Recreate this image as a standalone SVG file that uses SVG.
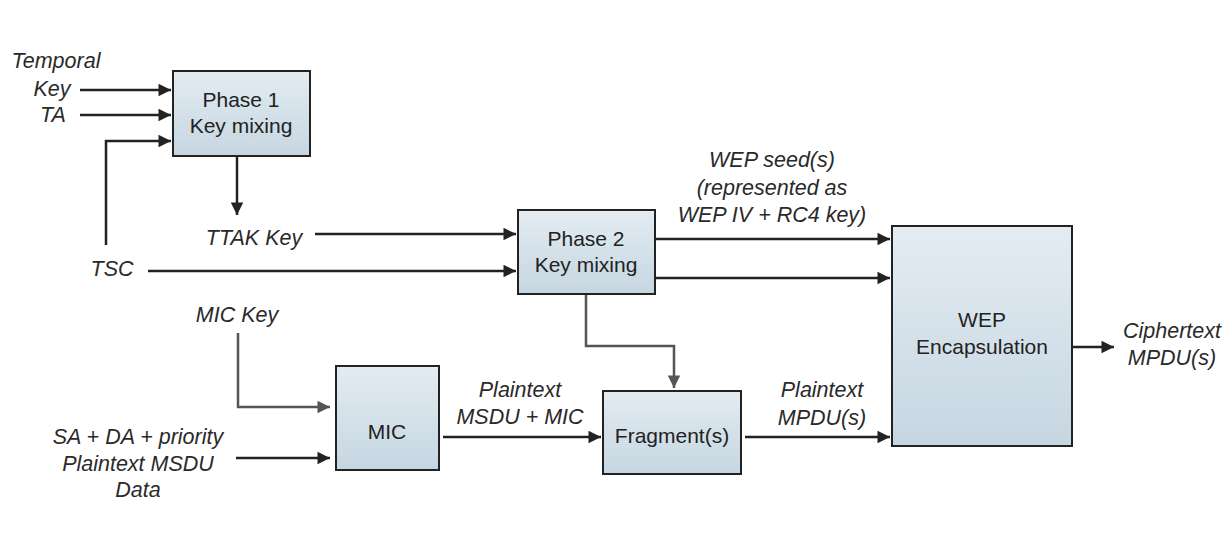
<svg xmlns="http://www.w3.org/2000/svg" width="1227" height="556" viewBox="0 0 1227 556">
<style>
.box{fill:url(#g);stroke:#222;stroke-width:2}
.bt{font-family:"Liberation Sans",Arial,sans-serif;font-size:21px;fill:#222;text-anchor:middle}
.lb{font-family:"Liberation Sans",Arial,sans-serif;font-size:21.5px;font-style:italic;fill:#2a2a2a;text-anchor:middle}
.c{fill:none;stroke:#222;stroke-width:2.5}
.cg{fill:none;stroke:#555;stroke-width:2.5}
</style>
<defs>
<linearGradient id="g" x1="0" y1="0" x2="0" y2="1">
<stop offset="0" stop-color="#e3ecf2"/>
<stop offset="1" stop-color="#c6d6e1"/>
</linearGradient>
<marker id="a" viewBox="0 0 10 10" refX="10" refY="5" markerWidth="5.5" markerHeight="5" orient="auto" markerUnits="strokeWidth">
<path d="M0,0 L10,5 L0,10 z" fill="#222"/>
</marker>
<marker id="ag" viewBox="0 0 10 10" refX="10" refY="5" markerWidth="5.5" markerHeight="5" orient="auto" markerUnits="strokeWidth">
<path d="M0,0 L10,5 L0,10 z" fill="#555"/>
</marker>
</defs>
<rect width="1227" height="556" fill="#fff"/>
<g id="connectors">
<path class="c" d="M80,90 H171" marker-end="url(#a)"/>
<path class="c" d="M80,115 H171" marker-end="url(#a)"/>
<path class="c" d="M106,245 V141 H171" marker-end="url(#a)"/>
<path class="c" d="M237,157 V215" marker-end="url(#a)"/>
<path class="c" d="M315,234 H516" marker-end="url(#a)"/>
<path class="c" d="M148,271 H516" marker-end="url(#a)"/>
<path class="c" d="M656,239 H890" marker-end="url(#a)"/>
<path class="c" d="M656,278 H890" marker-end="url(#a)"/>
<path class="cg" d="M586,295 V346 H674 V388" marker-end="url(#ag)"/>
<path class="cg" d="M238,333 V407 H330" marker-end="url(#ag)"/>
<path class="c" d="M236,458 H330" marker-end="url(#a)"/>
<path class="c" d="M443,437 H601" marker-end="url(#a)"/>
<path class="c" d="M745,437 H890" marker-end="url(#a)"/>
<path class="c" d="M1073,347 H1114" marker-end="url(#a)"/>
</g>
<g id="phase1"><rect class="box" x="173" y="71" width="137" height="85"/><text class="bt" x="241" y="107">Phase 1</text><text class="bt" x="241" y="133">Key mixing</text></g>
<g id="phase2"><rect class="box" x="518" y="210" width="137" height="84"/><text class="bt" x="586" y="246">Phase 2</text><text class="bt" x="586" y="272">Key mixing</text></g>
<g id="mic"><rect class="box" x="336" y="366" width="103" height="104"/><text class="bt" x="387" y="439">MIC</text></g>
<g id="fragment"><rect class="box" x="603" y="391" width="138" height="83"/><text class="bt" x="672" y="443">Fragment(s)</text></g>
<g id="wep"><rect class="box" x="892" y="226" width="180" height="220"/><text class="bt" x="982" y="327">WEP</text><text class="bt" x="982" y="354">Encapsulation</text></g>
<g id="labels">
<text class="lb" x="56" y="68">Temporal</text>
<text class="lb" x="52" y="96">Key</text>
<text class="lb" x="53" y="122">TA</text>
<text class="lb" x="254" y="245">TTAK Key</text>
<text class="lb" x="112" y="276">TSC</text>
<text class="lb" x="237" y="322">MIC Key</text>
<text class="lb" x="138" y="444">SA + DA + priority</text>
<text class="lb" x="138" y="471">Plaintext MSDU</text>
<text class="lb" x="138" y="497">Data</text>
<text class="lb" x="520" y="397">Plaintext</text>
<text class="lb" x="520" y="424">MSDU + MIC</text>
<text class="lb" x="822" y="397">Plaintext</text>
<text class="lb" x="822" y="425">MPDU(s)</text>
<text class="lb" x="772" y="167">WEP seed(s)</text>
<text class="lb" x="772" y="195">(represented as</text>
<text class="lb" x="772" y="222">WEP IV + RC4 key)</text>
<text class="lb" x="1172" y="338">Ciphertext</text>
<text class="lb" x="1172" y="365">MPDU(s)</text>
</g>
</svg>
